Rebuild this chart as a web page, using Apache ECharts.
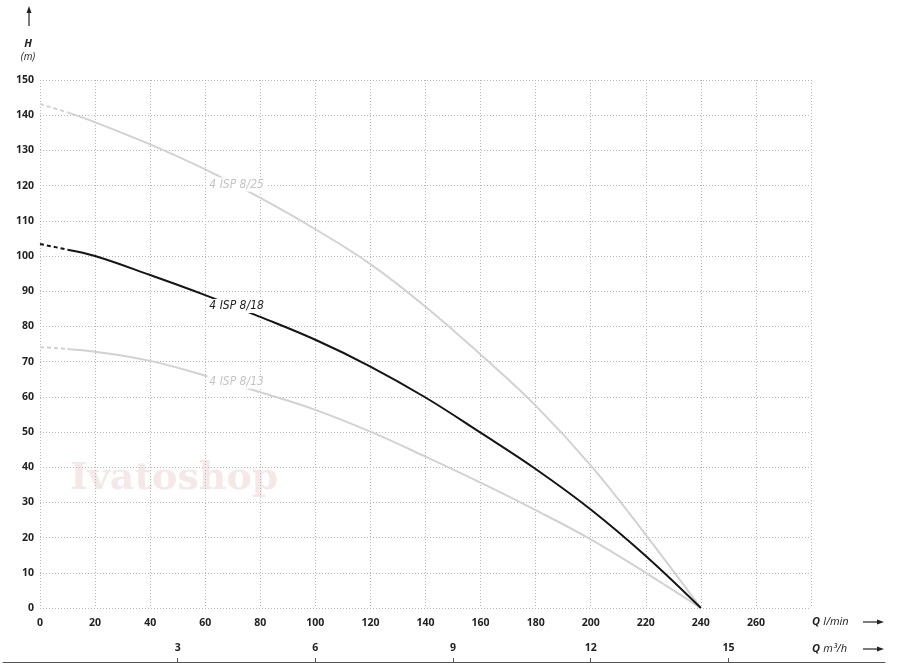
<!DOCTYPE html>
<html>
<head>
<meta charset="utf-8">
<script src="https://cdn.jsdelivr.net/npm/echarts@6/dist/echarts.min.js"></script>
<style>html,body{margin:0;padding:0;background:#fff;}#c{width:900px;height:670px;}</style>
</head>
<body>
<div id="c"></div>
<script>
// Flow (l/min) for solid parts of curves
const flow = [10, 20, 40, 60, 80, 100, 120, 140, 160, 180, 200, 220, 240];
const h25 = [140.8, 138, 131.7, 124.6, 116.5, 107.6, 97.7, 85.6, 72, 57.5, 40.5, 20.8, 0];
const h18 = [101.8, 100, 94.6, 88.9, 82.7, 76.2, 68.6, 59.8, 49.8, 39.5, 28, 14.8, 0];
const h13 = [73.6, 72.8, 70.2, 66, 61.3, 56.3, 50.1, 43, 35.6, 27.8, 19.5, 10, 0];
// dashed start segment (Q = 0 .. 10)
const flowStart = [0, 10];
const h25Start = [143.2, 140.8];
const h18Start = [103.4, 101.8];
const h13Start = [74.1, 73.6];
const names = ['4 ISP 8/25', '4 ISP 8/18', '4 ISP 8/13'];
const m3hTicks = [3, 6, 9, 12, 15];
const hiddenFlowLabel = 280;

const pairs = (xs, ys) => xs.map((x, i) => [x, ys[i]]);
const GRAY = '#d2d2d2';
const BLACK = '#151515';
const labelFont = "'DejaVu Sans Condensed','Liberation Sans Narrow','Open Sans',sans-serif";

function solid(name, ys, color, lab) {
  return {
    name: name, type: 'line', smooth: 0.4, symbol: 'none',
    data: pairs(flow, ys), xAxisIndex: 0, yAxisIndex: 0,
    lineStyle: { color: color, width: 2 }, z: 3,
    markPoint: {
      symbol: 'rect', symbolSize: 0, silent: true,
      data: [{ coord: lab, value: name }],
      label: {
        show: true, position: 'inside', formatter: name,
        fontFamily: labelFont, fontStyle: 'italic', fontSize: 12,
        color: color === BLACK ? '#222' : '#c4c4c4',
        backgroundColor: '#fff', padding: [1, 2]
      }
    }
  };
}
function dashed(ys, color) {
  return {
    type: 'line', symbol: 'none', data: pairs(flowStart, ys),
    xAxisIndex: 0, yAxisIndex: 0,
    lineStyle: { color: color, width: 2, type: [4, 3] }, z: 3
  };
}

const chart = echarts.init(document.getElementById('c'));
const labStyle = { color: '#222', fontWeight: 'bold', fontSize: 10.5, fontFamily: "'Open Sans',sans-serif" };
const gridLine = { show: true, lineStyle: { color: '#b8b8b8', width: 1, type: [1, 2] } };

chart.setOption({
  animation: false,
  backgroundColor: '#fff',
  grid: [
    { left: 40, top: 80, right: 89, bottom: 62 },
    { left: 3, right: 15, top: 661, height: 1 }
  ],
  xAxis: [
    {
      type: 'value', gridIndex: 0, min: 0, max: 280, interval: 20,
      axisLine: { show: false }, axisTick: { show: false },
      axisLabel: Object.assign({ margin: 10, formatter: v => (v === hiddenFlowLabel ? '' : String(v)) }, labStyle),
      splitLine: gridLine
    },
    {
      type: 'value', gridIndex: 1, position: 'top',
      min: -0.806, max: 18.412,
      axisLine: { show: true, lineStyle: { color: '#555', width: 1 } },
      axisTick: { show: true, length: 4, customValues: m3hTicks, lineStyle: { color: '#555' } },
      axisLabel: Object.assign({ margin: 7, customValues: m3hTicks }, labStyle),
      splitLine: { show: false }
    }
  ],
  yAxis: [
    {
      type: 'value', gridIndex: 0, min: 0, max: 150, interval: 10,
      axisLine: { show: false }, axisTick: { show: false },
      axisLabel: Object.assign({ margin: 6 }, labStyle),
      splitLine: gridLine
    },
    { type: 'value', gridIndex: 1, show: false, min: 0, max: 1 }
  ],
  graphic: [
    { type: 'text', left: 70, top: 460, z: 0, silent: true,
      style: { text: 'Ivatoshop', font: "bold 38px 'DejaVu Serif', serif", fill: 'rgba(228,200,200,0.42)' } },
    // H arrow
    { type: 'line', shape: { x1: 29, y1: 26, x2: 29, y2: 11 }, style: { stroke: '#222', lineWidth: 1.2 } },
    { type: 'polygon', shape: { points: [[29, 6], [26.5, 13], [31.5, 13]] }, style: { fill: '#222' } },
    { type: 'text', x: 28, y: 44, style: { text: 'H', font: "italic bold 11px 'Open Sans',sans-serif", fill: '#222', align: 'center', verticalAlign: 'middle' } },
    { type: 'text', x: 28, y: 57, style: { text: '(m)', font: "italic 10px 'Open Sans',sans-serif", fill: '#222', align: 'center', verticalAlign: 'middle' } },
    // Q l/min
    { type: 'text', x: 812, y: 622, style: { text: '{b|Q} {i|l/min}', verticalAlign: 'middle',
        rich: { b: { font: "italic bold 11px 'Open Sans',sans-serif", fill: '#222' }, i: { font: "italic 11px 'Open Sans',sans-serif", fill: '#222' } } } },
    { type: 'line', shape: { x1: 863, y1: 622, x2: 879, y2: 622 }, style: { stroke: '#222', lineWidth: 1.2 } },
    { type: 'polygon', shape: { points: [[884, 622], [877, 619.5], [877, 624.5]] }, style: { fill: '#222' } },
    // Q m3/h
    { type: 'text', x: 812, y: 649, style: { text: '{b|Q} {i|m³/h}', verticalAlign: 'middle',
        rich: { b: { font: "italic bold 11px 'Open Sans',sans-serif", fill: '#222' }, i: { font: "italic 11px 'Open Sans',sans-serif", fill: '#222' } } } },
    { type: 'line', shape: { x1: 863, y1: 649, x2: 879, y2: 649 }, style: { stroke: '#222', lineWidth: 1.2 } },
    { type: 'polygon', shape: { points: [[884, 649], [877, 646.5], [877, 651.5]] }, style: { fill: '#222' } }
  ],
  series: [
    dashed(h25Start, GRAY),
    dashed(h13Start, GRAY),
    dashed(h18Start, BLACK),
    solid(names[0], h25, GRAY, [71.4, 120.3]),
    solid(names[2], h13, GRAY, [71.4, 64.3]),
    solid(names[1], h18, BLACK, [71.4, 85.8])
  ]
});
</script>
</body>
</html>
